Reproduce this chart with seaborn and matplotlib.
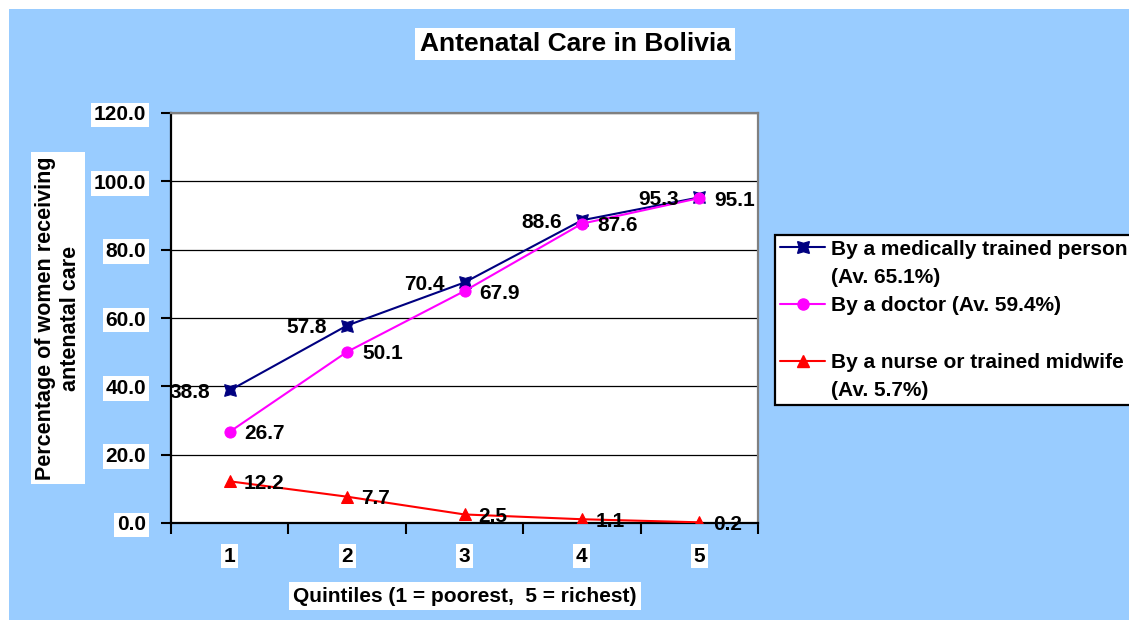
import matplotlib
matplotlib.use('Agg')
import matplotlib.pyplot as plt
import seaborn as sns
from matplotlib.lines import Line2D
from matplotlib.patches import Rectangle

# ---- data ----
quintiles = [1, 2, 3, 4, 5]
quintile_labels = ['1', '2', '3', '4', '5']
medical = [38.8, 57.8, 70.4, 88.6, 95.3]
doctor = [26.7, 50.1, 67.9, 87.6, 95.1]
nurse = [12.2, 7.7, 2.5, 1.1, 0.2]
legend_labels = ['By a medically trained person', '(Av. 65.1%)',
                 'By a doctor (Av. 59.4%)', ' ',
                 'By a nurse or trained midwife', '(Av. 5.7%)']
y_ticks = [0, 20, 40, 60, 80, 100, 120]
title = 'Antenatal Care in Bolivia'
y_label = 'Percentage of women receiving\nantenatal care'
x_label = 'Quintiles (1 = poorest,  5 = richest)'

# ---- style ----
sns.set_theme(style='white')
plt.rcParams['font.family'] = ['Liberation Sans', 'DejaVu Sans']
plt.rcParams['font.weight'] = 'bold'
for k in ['text.color', 'xtick.color', 'ytick.color', 'axes.labelcolor']:
    plt.rcParams[k] = 'black'

W, H = 1129, 620
fig = plt.figure(figsize=(W / 100, H / 100), dpi=100, facecolor='white')
fig.add_artist(Rectangle((9 / W, 0), 1, 1 - 9 / H, transform=fig.transFigure,
                         facecolor='#99CCFF', edgecolor='none', zorder=-10))
ax = fig.add_axes([171 / W, 1 - 523 / H, (758 - 171) / W, (523 - 113) / H])
ax.set_facecolor('white')

NAVY, MAG, RED = '#000080', '#FF00FF', '#FF0000'
star = (4, 1, 45)
sns.lineplot(x=quintiles, y=medical, ax=ax, color=NAVY, marker=star, markersize=12,
             markeredgecolor=NAVY, markerfacecolor=NAVY, linewidth=1.5, zorder=4)
sns.lineplot(x=quintiles, y=doctor, ax=ax, color=MAG, marker='o', markersize=8,
             markeredgecolor=MAG, markerfacecolor=MAG, linewidth=1.5, zorder=4)
sns.lineplot(x=quintiles, y=nurse, ax=ax, color=RED, marker='^', markersize=9,
             markeredgecolor=RED, markerfacecolor=RED, linewidth=1.5, zorder=4)

lab_kw = dict(textcoords='offset pixels', va='center', fontsize=15,
              fontweight='bold', annotation_clip=False, zorder=6, color='black')
for q, v in zip(quintiles, medical):
    ax.annotate(f'{v:.1f}', xy=(q, v), xytext=(-20, -2), ha='right', **lab_kw)
for q, v in zip(quintiles, doctor):
    ax.annotate(f'{v:.1f}', xy=(q, v), xytext=(15, -2), ha='left', **lab_kw)
for q, v in zip(quintiles, nurse):
    ax.annotate(f'{v:.1f}', xy=(q, v), xytext=(14, -2), ha='left', **lab_kw)

# ---- axes ----
ax.set_xlim(0.5, 5.5)
ax.set_ylim(0, 120)
ax.set_xticks([0.5, 1.5, 2.5, 3.5, 4.5, 5.5])
ax.set_xticklabels([])
ax.set_xticks(quintiles, minor=True)
ax.set_xticklabels(quintile_labels, minor=True, fontsize=15, fontweight='bold')
ax.tick_params(axis='x', which='major', direction='out', length=8, width=1.5,
               color='black', bottom=True)
ax.tick_params(axis='x', which='minor', length=0, pad=17, bottom=True)
ax.set_yticks(y_ticks)
ax.set_yticklabels([f'{t:.1f}' for t in y_ticks], fontsize=15, fontweight='bold')
ax.tick_params(axis='y', direction='out', length=7, width=1.5, color='black',
               pad=11, left=True)
for lab in ax.get_yticklabels() + ax.get_xticklabels(minor=True):
    lab.set_bbox(dict(facecolor='white', edgecolor='none', pad=2))
ax.set_xlabel('')
ax.set_ylabel('')
ax.yaxis.grid(True, color='black', linewidth=0.9)
ax.xaxis.grid(False)
ax.set_axisbelow(True)
for s in ['left', 'bottom']:
    ax.spines[s].set_color('black')
    ax.spines[s].set_linewidth(1.6)
for s in ['top', 'right']:
    ax.spines[s].set_color('#808080')
    ax.spines[s].set_linewidth(1.6)

# ---- text ----
box = dict(facecolor='white', edgecolor='none', pad=3)
fig.text(575 / W, 1 - 44 / H, title, ha='center', va='center', fontsize=19,
         fontweight='bold', bbox=box)
fig.text(58 / W, 1 - 318 / H, y_label, rotation=90, ha='center', va='center',
         multialignment='center', fontsize=15.5, fontweight='bold',
         linespacing=1.3, bbox=box)
fig.text(465 / W, 1 - 596 / H, x_label, ha='center', va='center', fontsize=15,
         fontweight='bold', bbox=box)

# ---- legend ----
none = dict(color='none')
handles = [Line2D([0], [0], color=NAVY, marker=star, ms=12, lw=1.5),
           Line2D([0], [0], **none),
           Line2D([0], [0], color=MAG, marker='o', ms=8, lw=1.5),
           Line2D([0], [0], **none),
           Line2D([0], [0], color=RED, marker='^', ms=9, lw=1.5),
           Line2D([0], [0], **none)]
leg = fig.legend(handles, legend_labels, loc='upper left',
                 bbox_to_anchor=(775 / W, 1 - 235 / H), frameon=True,
                 fancybox=False, edgecolor='black', facecolor='white',
                 framealpha=1, prop=dict(size=15, weight='bold'),
                 handlelength=2.2, handletextpad=0.25, labelspacing=0.45,
                 borderpad=0.22, borderaxespad=0, numpoints=1)
leg.get_frame().set_linewidth(1.6)
for t in leg.get_texts():
    t.set_color('black')

fig.savefig('out.png', dpi=100, facecolor=fig.get_facecolor())
